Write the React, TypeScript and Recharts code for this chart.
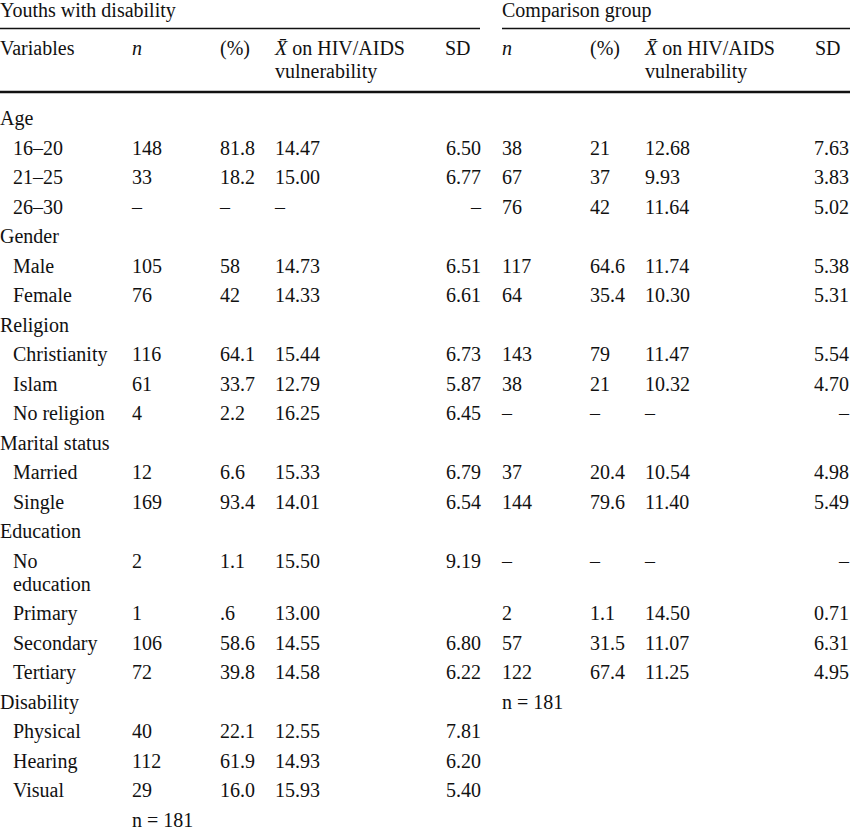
import { ScatterChart, Scatter, XAxis, YAxis, ReferenceLine } from "recharts";

// table content
const rowLabels = [
  "Age", "16–20", "21–25", "26–30",
  "Gender", "Male", "Female",
  "Religion", "Christianity", "Islam", "No religion",
  "Marital status", "Married", "Single",
  "Education", "No\neducation", "Primary", "Secondary", "Tertiary",
  "Disability", "Physical", "Hearing", "Visual",
];
const groupRows = ["Age", "Gender", "Religion", "Marital status", "Education", "Disability"];

const youthN = ["", "148", "33", "–", "", "105", "76", "", "116", "61", "4", "", "12", "169", "", "2", "1", "106", "72", "", "40", "112", "29"];
const youthPct = ["", "81.8", "18.2", "–", "", "58", "42", "", "64.1", "33.7", "2.2", "", "6.6", "93.4", "", "1.1", ".6", "58.6", "39.8", "", "22.1", "61.9", "16.0"];
const youthMean = ["", "14.47", "15.00", "–", "", "14.73", "14.33", "", "15.44", "12.79", "16.25", "", "15.33", "14.01", "", "15.50", "13.00", "14.55", "14.58", "", "12.55", "14.93", "15.93"];
const youthSD = ["", "6.50", "6.77", "–", "", "6.51", "6.61", "", "6.73", "5.87", "6.45", "", "6.79", "6.54", "", "9.19", "", "6.80", "6.22", "", "7.81", "6.20", "5.40"];

const compN = ["", "38", "67", "76", "", "117", "64", "", "143", "38", "–", "", "37", "144", "", "–", "2", "57", "122"];
const compPct = ["", "21", "37", "42", "", "64.6", "35.4", "", "79", "21", "–", "", "20.4", "79.6", "", "–", "1.1", "31.5", "67.4"];
const compMean = ["", "12.68", "9.93", "11.64", "", "11.74", "10.30", "", "11.47", "10.32", "–", "", "10.54", "11.40", "", "–", "14.50", "11.07", "11.25"];
const compSD = ["", "7.63", "3.83", "5.02", "", "5.38", "5.31", "", "5.54", "4.70", "–", "", "4.98", "5.49", "", "–", "0.71", "6.31", "4.95"];

const youthTotal = "n = 181";
const compTotal = "n = 181";

const FONT = "'Liberation Serif', 'Times New Roman', serif";
const W = 850;
const H = 830;

// layout
const rowY = (i: number) => 118 + i * 29.5 + (i > 15 ? 23 : 0);

type Cell = { x: number; y: number; label: string; anchor?: string; italic?: boolean };

const col = (values: string[], x: number, anchor = "start"): Cell[] =>
  values
    .map((v, i) => ({ x, y: rowY(i), label: v, anchor }))
    .filter(c => c.label !== "");

const labelCells: Cell[] = rowLabels.map((l, i) => ({
  x: groupRows.includes(l) ? 0 : 13,
  y: rowY(i),
  label: l,
}));

const headerCells: Cell[] = [
  { x: 0, y: 9.5, label: "Youths with disability" },
  { x: 502, y: 9.5, label: "Comparison group" },
  { x: 0, y: 48, label: "Variables" },
  { x: 132, y: 48, label: "n", italic: true },
  { x: 220, y: 48, label: "(%)" },
  { x: 275, y: 48, label: "XBAR on HIV/AIDS" },
  { x: 275, y: 71, label: "vulnerability" },
  { x: 445, y: 48, label: "SD" },
  { x: 502, y: 48, label: "n", italic: true },
  { x: 590, y: 48, label: "(%)" },
  { x: 645, y: 48, label: "XBAR on HIV/AIDS" },
  { x: 645, y: 71, label: "vulnerability" },
  { x: 815, y: 48, label: "SD" },
  { x: 132, y: rowY(23), label: youthTotal },
  { x: 502, y: rowY(19), label: compTotal },
];

const TextShape = (props: any) => {
  const { cx, cy, payload } = props;
  const lines: string[] = String(payload.label).split("\n");
  return (
    <text
      x={cx}
      y={cy}
      textAnchor={payload.anchor || "start"}
      dominantBaseline="central"
      fontFamily={FONT}
      fontSize={20}
      fill="#111"
      fontStyle={payload.italic ? "italic" : "normal"}
    >
      {lines.map((ln, k) => {
        if (ln.startsWith("XBAR")) {
          return (
            <tspan key={k} x={cx} dy={k === 0 ? 0 : 23}>
              <tspan fontStyle="italic">{"X\u0304"}</tspan>
              {ln.slice(4)}
            </tspan>
          );
        }
        return (
          <tspan key={k} x={cx} dy={k === 0 ? 0 : 23}>
            {ln}
          </tspan>
        );
      })}
    </text>
  );
};

const columns: Cell[][] = [
  labelCells,
  headerCells,
  col(youthN, 132),
  col(youthPct, 220),
  col(youthMean, 275),
  col(youthSD, 481, "end"),
  col(compN, 502),
  col(compPct, 590),
  col(compMean, 645),
  col(compSD, 849, "end"),
];

export default function App() {
  return (
    <div style={{ position: "absolute", left: 0, top: 0, background: "#fff" }}>
      <ScatterChart width={W} height={H} margin={{ top: 0, right: 0, bottom: 0, left: 0 }}>
        <XAxis type="number" dataKey="x" domain={[0, W]} hide />
        <YAxis type="number" dataKey="y" domain={[0, H]} reversed hide />
        <ReferenceLine segment={[{ x: 0, y: 28.5 }, { x: 480, y: 28.5 }]} stroke="#111" strokeWidth={1.5} />
        <ReferenceLine segment={[{ x: 502, y: 28.5 }, { x: W, y: 28.5 }]} stroke="#111" strokeWidth={1.5} />
        <ReferenceLine y={92} stroke="#111" strokeWidth={2.5} />
        {columns.map((data, i) => (
          <Scatter key={i} data={data} shape={TextShape} isAnimationActive={false} />
        ))}
      </ScatterChart>
    </div>
  );
}
